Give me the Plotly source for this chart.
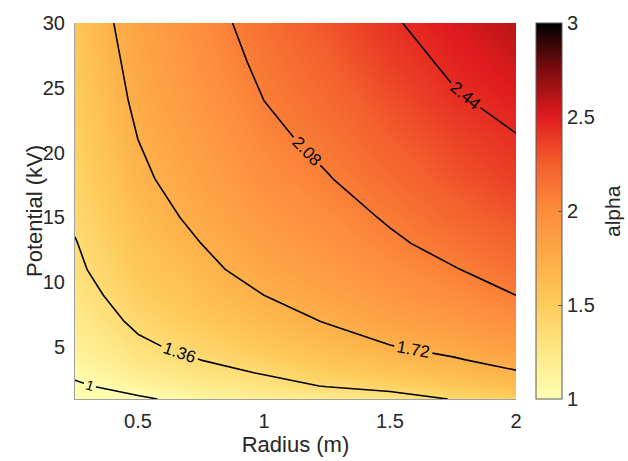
import plotly.graph_objects as go

# Radius (m) grid columns and Potential (kV) grid rows
radius = [0.25, 0.5, 0.75, 1.0, 1.25, 1.5, 1.75, 2.0]
potential = [1, 2, 3, 4, 5, 7, 9, 11, 13, 15, 18, 21, 24, 27, 30]

# alpha values, one list per potential row
alpha_rows = [
    [0.82, 0.96, 1.09, 1.17, 1.20, 1.25, 1.37, 1.45],   # 1 kV
    [0.96, 1.11, 1.22, 1.29, 1.37, 1.44, 1.54, 1.61],   # 2
    [1.05, 1.20, 1.30, 1.37, 1.49, 1.56, 1.63, 1.70],   # 3
    [1.11, 1.27, 1.36, 1.46, 1.57, 1.64, 1.70, 1.79],   # 4
    [1.15, 1.32, 1.42, 1.54, 1.63, 1.71, 1.78, 1.87],   # 5
    [1.22, 1.40, 1.53, 1.64, 1.73, 1.83, 1.90, 1.99],   # 7
    [1.27, 1.47, 1.61, 1.72, 1.82, 1.92, 2.00, 2.08],   # 9
    [1.32, 1.53, 1.67, 1.80, 1.89, 1.99, 2.07, 2.16],   # 11
    [1.35, 1.58, 1.72, 1.86, 1.95, 2.05, 2.14, 2.23],   # 13
    [1.39, 1.62, 1.77, 1.91, 2.00, 2.10, 2.21, 2.29],   # 15
    [1.43, 1.68, 1.83, 1.98, 2.07, 2.18, 2.29, 2.37],   # 18
    [1.47, 1.72, 1.88, 2.03, 2.13, 2.25, 2.35, 2.43],   # 21
    [1.50, 1.76, 1.93, 2.08, 2.19, 2.31, 2.42, 2.49],   # 24
    [1.53, 1.79, 1.97, 2.12, 2.24, 2.37, 2.47, 2.55],   # 27
    [1.56, 1.82, 2.00, 2.16, 2.29, 2.42, 2.52, 2.60],   # 30
]

low_level = 1.0
contour_start = 1.36
contour_step = 0.36
contour_end = 2.44

x_ticks = [0.5, 1, 1.5, 2]
y_ticks = [5, 10, 15, 20, 25, 30]
cbar_ticks = [1, 1.5, 2, 2.5, 3]

cscale = [
    [0.0, "rgb(255,255,178)"],
    [0.125, "rgb(254,232,135)"],
    [0.25, "rgb(254,204,92)"],
    [0.375, "rgb(253,172,72)"],
    [0.5, "rgb(253,141,60)"],
    [0.625, "rgb(243,95,45)"],
    [0.75, "rgb(225,28,30)"],
    [0.875, "rgb(125,12,14)"],
    [1.0, "rgb(0,0,0)"],
]

font_family = "Liberation Sans, Arial, sans-serif"
txt = "rgb(38,38,38)"

fig = go.Figure()
fig.add_trace(go.Heatmap(
    x=radius, y=potential, z=alpha_rows,
    zmin=1, zmax=3, zsmooth="best", colorscale=cscale,
    colorbar=dict(
        x=1.045, xanchor="left", xpad=0, y=0.5, yanchor="middle", ypad=0,
        len=1.0, lenmode="fraction",
        thickness=26, outlinecolor="rgb(90,90,90)", outlinewidth=1,
        tickvals=cbar_ticks, ticktext=["1", "1.5", "2", "2.5", "3"],
        ticks="inside", ticklen=4, tickcolor="rgb(90,90,90)",
        tickfont=dict(size=20, color=txt, family=font_family),
    ),
    hoverinfo="skip", showlegend=False,
))
fig.add_trace(go.Contour(
    x=radius, y=potential, z=alpha_rows,
    contours=dict(coloring="none", start=contour_start, end=contour_end, size=contour_step,
                  showlabels=True,
                  labelfont=dict(size=17, color="black", family=font_family)),
    line=dict(color="black", width=1.6, smoothing=0),
    showscale=False, hoverinfo="skip", showlegend=False,
))
fig.add_trace(go.Contour(
    x=radius, y=potential, z=alpha_rows,
    contours=dict(coloring="none", start=low_level, end=low_level, size=contour_step,
                  showlabels=True,
                  labelfont=dict(size=14, color="black", family=font_family)),
    line=dict(color="black", width=1.6, smoothing=0),
    showscale=False, hoverinfo="skip", showlegend=False,
))

fig.add_annotation(text="alpha", xref="paper", yref="paper", x=(612 - 75) / 441, y=0.5,
                   textangle=-90, showarrow=False, xanchor="center", yanchor="middle",
                   font=dict(size=21, color=txt, family=font_family))
fig.add_annotation(text="Potential (kV)", xref="paper", yref="paper", x=(34 - 75) / 441, y=0.5,
                   textangle=-90, showarrow=False, xanchor="center", yanchor="middle",
                   font=dict(size=22, color=txt, family=font_family))

fig.update_layout(
    width=628, height=461,
    margin=dict(l=75, r=112, t=13, b=62),
    paper_bgcolor="white", plot_bgcolor="white",
    showlegend=False,
    font=dict(family=font_family, color=txt),
    xaxis=dict(range=[0.25, 2], tickvals=x_ticks, ticktext=["0.5", "1", "1.5", "2"],
               showgrid=False, zeroline=False, showline=True, linecolor="rgb(160,160,160)",
               ticks="", tickfont=dict(size=20, color=txt), ticklabelstandoff=4,
               title=dict(text="Radius (m)", font=dict(size=22, color=txt), standoff=2)),
    yaxis=dict(range=[1, 30], tickvals=y_ticks,
               showgrid=False, zeroline=False, showline=True, linecolor="rgb(160,160,160)",
               ticks="", tickfont=dict(size=20, color=txt), ticklabelstandoff=5),
)

fig.write_html("out.html")
